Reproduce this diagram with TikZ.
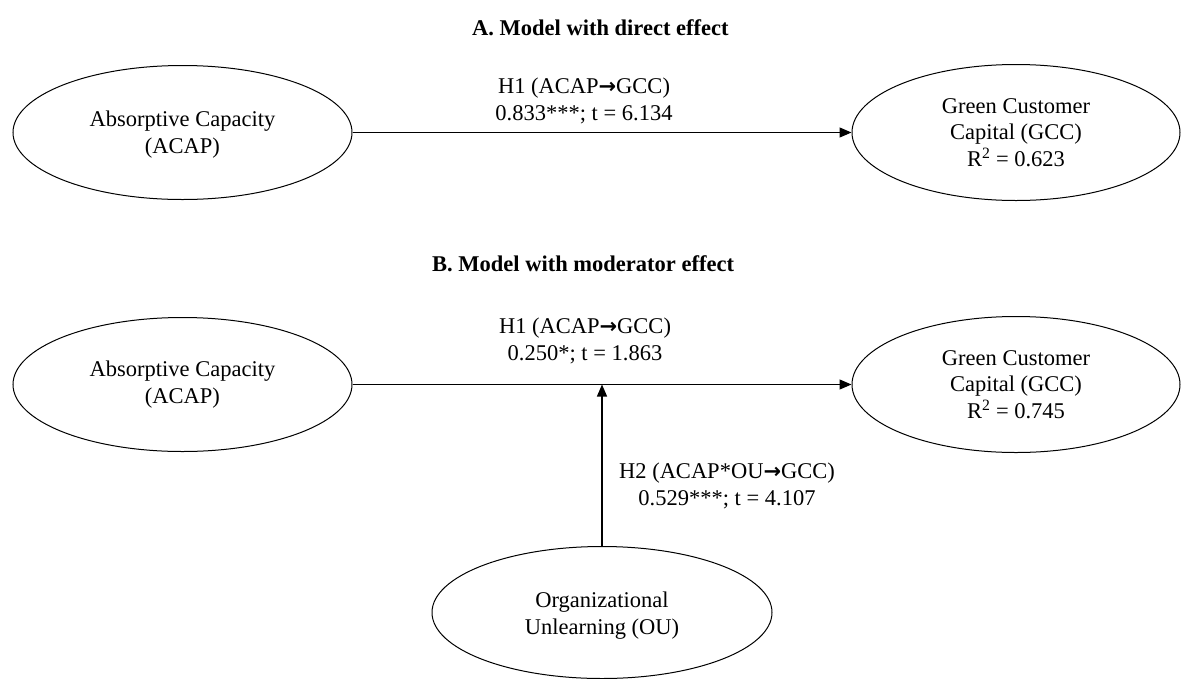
\documentclass[tikz,border=0pt]{standalone}
\usepackage{fontspec}
\setmainfont{Liberation Serif}
\newfontfamily\arrfont{DejaVu Sans}
\usetikzlibrary{shapes.geometric,arrows.meta}
\newcommand{\rarr}{{\arrfont\bfseries\fontsize{21}{21}\selectfont →}}
\begin{document}
\begin{tikzpicture}[x=1pt,y=-1pt,
  body/.style={font=\fontsize{22.5}{26.5}\selectfont},
  latent/.style={ellipse, draw, line width=1pt, inner sep=0pt, align=center, body},
  acap/.style={latent, minimum width=339pt, minimum height=134pt},
  gcc/.style={latent, minimum width=328pt, minimum height=136pt},
  lbl/.style={align=center, inner sep=0pt, body},
  ttl/.style={anchor=base west, inner sep=0pt, font=\bfseries\fontsize{22.5}{26}\selectfont},
  pth/.style={line width=1.2pt, -{Triangle[length=12pt,width=10pt]}}]
\useasboundingbox (0,0) rectangle (1181,678);
% Section A
\node[ttl] (ta) at (472,35) {A. Model with direct effect};
\node[acap] (acapA) at (182.5,132.5) {\rule{0pt}{20pt}Absorptive Capacity\\(ACAP)};
\node[gcc] (gccA) at (1016,132.5) {Green Customer\\Capital (GCC)\\R\textsuperscript{2} = 0.623};
\draw[pth] (acapA.east) -- (gccA.west);
\node[lbl] (h1A) at (584,101) {H1 (ACAP\rarr GCC)\\0.833***; t = 6.134};
% Section B
\node[ttl] (tb) at (432,271) {B. Model with moderator effect};
\node[acap] (acapB) at (182.5,384.5) {Absorptive Capacity\\(ACAP)};
\node[gcc] (gccB) at (1016,384.5) {Green Customer\\Capital (GCC)\\R\textsuperscript{2} = 0.745};
\draw[pth] (acapB.east) -- (gccB.west);
\node[lbl] (h1B) at (585,341) {H1 (ACAP\rarr GCC)\\0.250*; t = 1.863};
\node[latent, minimum width=340pt, minimum height=132pt] (ou) at (602,612.5) {\rule{0pt}{22pt}Organizational\\Unlearning (OU)};
\coordinate (mod) at (602,384.5);
\draw[pth] (ou.north) -- (mod);
\node[lbl] (h2) at (727,486) {H2 (ACAP*OU\rarr GCC)\\0.529***; t = 4.107};
\end{tikzpicture}
\end{document}
